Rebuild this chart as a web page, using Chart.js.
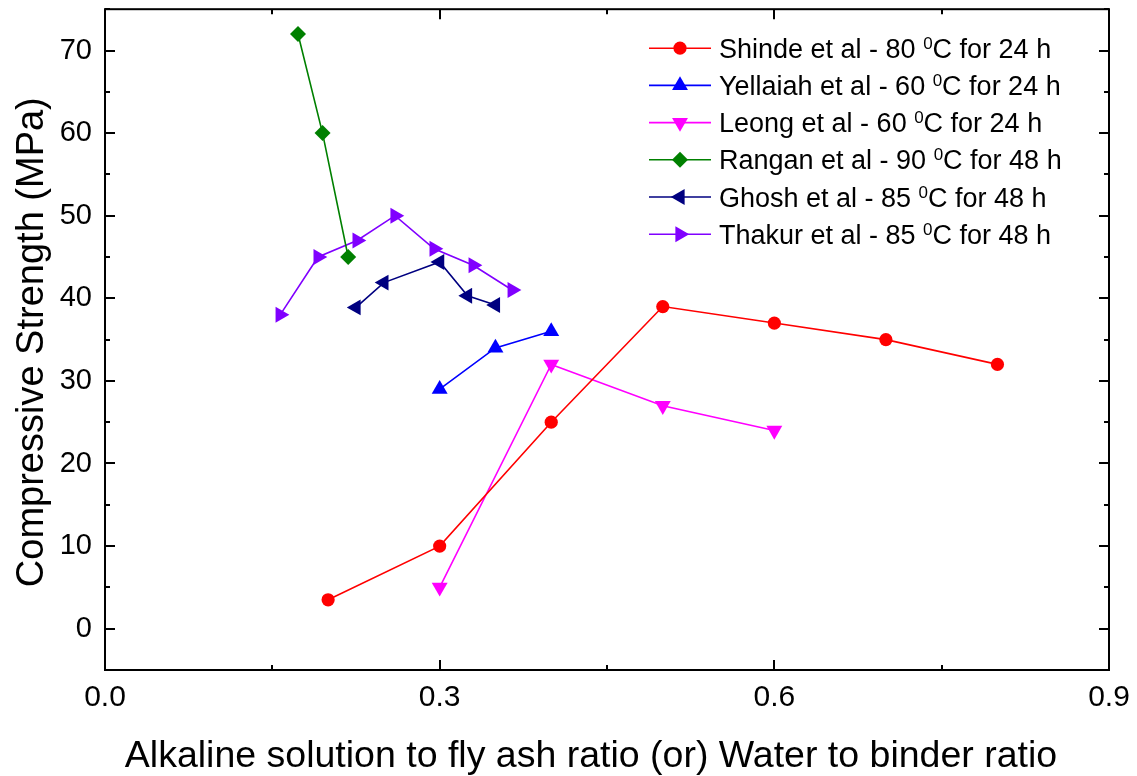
<!DOCTYPE html>
<html>
<head>
<meta charset="utf-8">
<title>Compressive strength vs ratio</title>
<script src="https://cdn.jsdelivr.net/npm/chart.js@4.4.1/dist/chart.umd.min.js"></script>
<style>
    html, body { margin: 0; padding: 0; background: #fff; }
    #wrap { width: 1137px; height: 776px; }
</style>
</head>
<body>
<div id="wrap"><canvas id="strength-chart" width="1137" height="776"></canvas></div>
<script>
// Series values (ratio, MPa)
const shindeX = [0.2, 0.3, 0.4, 0.5, 0.6, 0.7, 0.8];
const shindeY = [3.5, 10, 25, 39, 37, 35, 32];

const yellaiahX = [0.3, 0.35, 0.4];
const yellaiahY = [29, 34, 36];

const leongX = [0.3, 0.4, 0.5, 0.6];
const leongY = [5, 32, 27, 24];

const ranganX = [0.173, 0.195, 0.218];
const ranganY = [72, 60, 45];

const ghoshX = [0.225, 0.25, 0.3, 0.325, 0.35];
const ghoshY = [38.9, 41.9, 44.4, 40.3, 39.2];

const thakurX = [0.157, 0.191, 0.226, 0.26, 0.295, 0.33, 0.365];
const thakurY = [38, 45, 47, 50, 46, 44, 41];

// Legend text pieces
const authors = ['Shinde et al', 'Yellaiah et al', 'Leong et al', 'Rangan et al', 'Ghosh et al', 'Thakur et al'];
const temps = [80, 60, 60, 90, 85, 85];
const hours = [24, 24, 24, 48, 48, 48];

// Axis settings
const xMin = 0, xMax = 0.9, xStep = 0.15;
const yMin = -5, yMax = 75, yStep = 5;
const xTitle = 'Alkaline solution to fly ash ratio (or) Water to binder ratio';
const yTitle = 'Compressive Strength (MPa)';

const FONT = "'Liberation Sans', Arial, sans-serif";

function toPoints(xs, ys) {
    return xs.map((x, i) => ({ x: x, y: ys[i] }));
}

function makeSeries(i, xs, ys, color, style, rotation, radius) {
    return {
        label: `${authors[i]} - ${temps[i]} °C for ${hours[i]} h`,
        data: toPoints(xs, ys),
        showLine: true,
        borderColor: color,
        backgroundColor: color,
        borderWidth: 1.6,
        pointStyle: style,
        rotation: rotation,
        pointRadius: radius,
        pointBorderWidth: 0,
        pointBackgroundColor: color,
        tension: 0
    };
}

const datasets = [
    makeSeries(0, shindeX, shindeY, '#ff0000', 'circle', 0, 6.6),
    makeSeries(1, yellaiahX, yellaiahY, '#0000ff', 'triangle', 0, 9.2),
    makeSeries(2, leongX, leongY, '#ff00ff', 'triangle', 180, 9.2),
    makeSeries(3, ranganX, ranganY, '#008000', 'rectRot', 0, 8),
    makeSeries(4, ghoshX, ghoshY, '#000080', 'triangle', -90, 9.2),
    makeSeries(5, thakurX, thakurY, '#8000ff', 'triangle', 90, 9.2)
];

// Box frame with inward ticks on all four sides, plus the axis titles
const framePlugin = {
    id: 'frame',
    afterDraw(chart) {
        const ctx = chart.ctx;
        const a = chart.chartArea;
        const xs = chart.scales.x, ys = chart.scales.y;
        ctx.save();
        ctx.strokeStyle = '#000';
        ctx.lineWidth = 2;
        ctx.lineCap = 'butt';
        ctx.strokeRect(a.left, a.top, a.right - a.left, a.bottom - a.top);
        ctx.beginPath();
        xs.ticks.forEach(t => {
            const px = Math.round(xs.getPixelForValue(t.value));
            const len = t.label !== '' ? 10 : 5;
            ctx.moveTo(px, a.bottom); ctx.lineTo(px, a.bottom - len);
            ctx.moveTo(px, a.top); ctx.lineTo(px, a.top + len);
        });
        ys.ticks.forEach(t => {
            const py = Math.round(ys.getPixelForValue(t.value));
            const len = t.label !== '' ? 10 : 5;
            ctx.moveTo(a.left, py); ctx.lineTo(a.left + len, py);
            ctx.moveTo(a.right, py); ctx.lineTo(a.right - len, py);
        });
        ctx.stroke();

        ctx.fillStyle = '#000';
        ctx.textAlign = 'center';
        ctx.textBaseline = 'alphabetic';
        ctx.font = `37.5px ${FONT}`;
        ctx.fillText(xTitle, a.left + 486, 767);
        ctx.translate(43, a.top + 333);
        ctx.rotate(-Math.PI / 2);
        ctx.font = `38px ${FONT}`;
        ctx.fillText(yTitle, 0, 0);
        ctx.restore();
    }
};

// Legend: line sample with marker, label with superscript 0
const legendPlugin = {
    id: 'boxLegend',
    afterDatasetsDraw(chart) {
        const ctx = chart.ctx;
        const a = chart.chartArea;
        const lineX0 = a.left + 544, lineX1 = a.left + 606;
        const markX = (lineX0 + lineX1) / 2;
        const textX = a.left + 614;
        const rowTop = a.top + 39, rowGap = 37.2;
        ctx.save();
        chart.data.datasets.forEach((ds, i) => {
            const y = rowTop + i * rowGap;
            ctx.strokeStyle = ds.borderColor;
            ctx.lineWidth = ds.borderWidth;
            ctx.beginPath();
            ctx.moveTo(lineX0, y);
            ctx.lineTo(lineX1, y);
            ctx.stroke();
            ctx.fillStyle = ds.backgroundColor;
            Chart.helpers.drawPoint(ctx, {
                pointStyle: ds.pointStyle,
                rotation: ds.rotation,
                radius: ds.pointRadius,
                borderWidth: 0
            }, markX, y);

            const base = y + 9.5;
            ctx.fillStyle = '#000';
            ctx.textBaseline = 'alphabetic';
            ctx.textAlign = 'left';
            let x = textX;
            const head = `${authors[i]} - ${temps[i]} `;
            ctx.font = `27px ${FONT}`;
            ctx.fillText(head, x, base);
            x += ctx.measureText(head).width;
            ctx.font = `17px ${FONT}`;
            ctx.fillText('0', x, base - 9);
            x += ctx.measureText('0').width;
            ctx.font = `27px ${FONT}`;
            ctx.fillText(`C for ${hours[i]} h`, x, base);
        });
        ctx.restore();
    }
};

const chart = new Chart(document.getElementById('strength-chart'), {
    type: 'scatter',
    data: { datasets: datasets },
    options: {
        responsive: false,
        animation: false,
        events: [],
        layout: { padding: { top: 7, right: 28, left: 0, bottom: 0 } },
        plugins: {
            legend: { display: false },
            tooltip: { enabled: false }
        },
        scales: {
            x: {
                type: 'linear',
                min: xMin,
                max: xMax,
                grid: { display: false, drawTicks: false },
                border: { display: false },
                afterFit(scale) {
                    scale.height = 106;
                    scale.paddingLeft = 0;
                    scale.paddingRight = 0;
                },
                ticks: {
                    stepSize: xStep,
                    autoSkip: false,
                    maxRotation: 0,
                    padding: 10,
                    color: '#000',
                    font: { family: FONT, size: 30 },
                    callback: v => (Math.round(v * 100) % 30 === 0 ? v.toFixed(1) : '')
                }
            },
            y: {
                type: 'linear',
                min: yMin,
                max: yMax,
                grid: { display: false, drawTicks: false },
                border: { display: false },
                afterFit(scale) {
                    scale.width = 105;
                    scale.paddingTop = 0;
                    scale.paddingBottom = 0;
                },
                ticks: {
                    stepSize: yStep,
                    autoSkip: false,
                    padding: 13,
                    color: '#000',
                    font: { family: FONT, size: 29 },
                    callback: v => (v % 10 === 0 ? v : '')
                }
            }
        }
    },
    plugins: [framePlugin, legendPlugin]
});
</script>
</body>
</html>
